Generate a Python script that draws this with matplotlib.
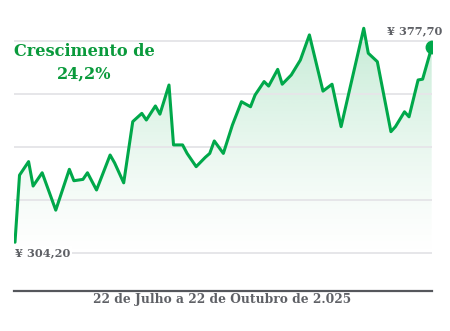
import numpy as np
import pandas as pd
import matplotlib
matplotlib.use("Agg")
import matplotlib.pyplot as plt
from matplotlib.colors import to_rgb

# closing prices, days counted from 22 July 2025
days = [0, 1, 3, 4, 6, 9, 12, 13, 15, 16, 18, 21, 22, 24, 26, 28, 29, 31, 32,
        34, 35, 37, 38, 40, 42, 43, 44, 46, 48, 50, 52, 53, 55, 56, 58, 59, 61,
        63, 65, 68, 70, 72, 77, 78, 80, 83, 84, 86, 87, 89, 90, 92]
prices = [304.2, 329.5, 334.6, 325.4, 330.4, 316.3, 331.7, 327.4, 327.9, 330.4,
          323.9, 337.1, 334.1, 326.6, 349.7, 352.8, 350.3, 355.6, 352.5, 363.5,
          340.9, 340.9, 337.7, 332.7, 336.2, 337.7, 342.4, 337.7, 348.4, 357.2,
          355.3, 359.7, 364.8, 363.1, 369.4, 363.8, 367.3, 372.9, 382.4, 361.2,
          363.8, 347.8, 384.9, 375.5, 372.3, 345.9, 347.8, 353.4, 351.5, 365.4,
          365.7, 377.7]
grid_levels = [300, 320, 340, 360, 380]

title = "Crescimento de\n24,2%"
period = "22 de Julho a 22 de Outubro de 2.025"

GREEN = "#00a84a"
GRAY = "#5f6166"

fig = plt.figure(figsize=(4.5, 3.31), dpi=100)
ax = fig.add_axes([14 / 450, 40 / 331, 418 / 450, 271.2 / 331])
ax.set_xlim(-0.22, 92.07)
ax.set_ylim(285.8, 388.1)

ax.set_yticks(grid_levels)
ax.set_xticks([])
ax.tick_params(axis="y", length=0, labelleft=False)
ax.grid(axis="y", color="#e6e6e9", linewidth=1.4, zorder=0)
for side in ("left", "right", "top"):
    ax.spines[side].set_visible(False)
ax.spines["bottom"].set_color("#55575c")
ax.spines["bottom"].set_linewidth(1.6)

# green gradient under the curve, fading out towards the bottom
poly = ax.fill_between(days, prices, 285.8, color="none", linewidth=0)
rgb = to_rgb(GREEN)
grad = np.zeros((256, 1, 4))
grad[:, 0, :3] = rgb
grad[:, 0, 3] = 0.24 * np.linspace(1.0, 0.0, 256) ** 1.3
img = ax.imshow(grad, extent=[0, 92, 298, 388], aspect="auto",
                origin="upper", zorder=1)
img.set_clip_path(poly.get_paths()[0], transform=ax.transData)

ax.plot(days, prices, color=GREEN, linewidth=2.2, solid_joinstyle="round",
        solid_capstyle="round", zorder=3)
ax.plot(days[-1], prices[-1], "o", color=GREEN, markersize=9, zorder=4)

font = ["DejaVu Serif"]
ax.text(days[0], 300, f"¥ {prices[0]:.2f}".replace(".", ","), ha="left",
        va="center", color=GRAY, fontsize=8.2, fontweight="bold", family=font,
        bbox=dict(facecolor="white", edgecolor="none", pad=1), zorder=2)
ax.annotate(f"¥ {prices[-1]:.2f}".replace(".", ","), (days[-1], prices[-1]),
            xytext=(8, 12), textcoords="offset points", ha="right",
            va="center", color=GRAY, fontsize=8.2, fontweight="bold",
            family=font, annotation_clip=False)

fig.text(84 / 450, 1 - 63 / 331, title, ha="center", va="center",
         color="#0a9a3c", fontsize=11.6, fontweight="bold", family=font,
         linespacing=1.45)
fig.text(222 / 450, 1 - 300 / 331, period, ha="center", va="center",
         color=GRAY, fontsize=8.8, fontweight="bold", family=font)

fig.savefig("out.png", dpi=100, facecolor="white")
